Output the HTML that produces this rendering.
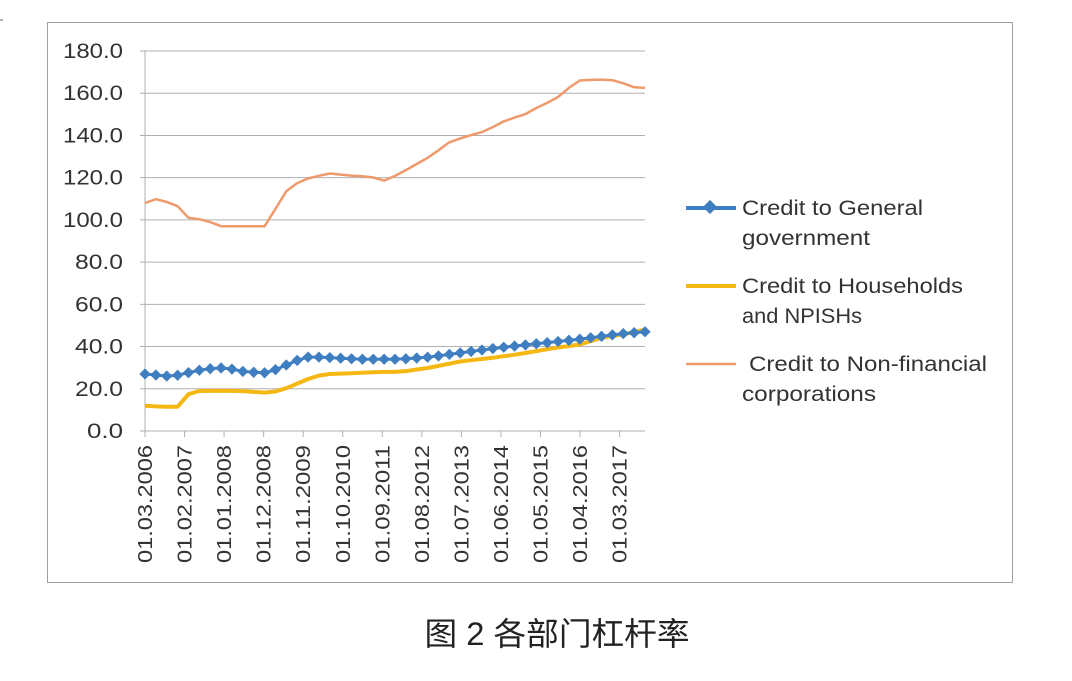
<!DOCTYPE html>
<html><head><meta charset="utf-8"><style>
body{margin:0;background:#fff;width:1072px;height:676px;overflow:hidden}
</style></head><body>
<svg width="1072" height="676" xmlns="http://www.w3.org/2000/svg" font-family="Liberation Sans, DejaVu Sans, sans-serif">
<rect x="47.5" y="22.5" width="965" height="560" fill="#fff" stroke="#a0a0a0"/>
<line x1="0" y1="20" x2="3" y2="20" stroke="#666"/>
<g id="grid" stroke="#b0b0b0" stroke-width="1"></g>
<g id="ylab" font-size="21" fill="#333" text-anchor="end"></g>
<g id="xlab" font-size="20" fill="#333"></g>
<line x1="145" y1="50" x2="145" y2="431" stroke="#b0b0b0"/>
<g id="series"></g>
<g font-size="21" fill="#333">
<line x1="686" y1="208" x2="736" y2="208" stroke="#3f7fc1" stroke-width="4"/>
<rect x="705" y="202" width="10" height="10" fill="#3f7fc1" transform="rotate(45 710 207)"/>
<text x="742" y="215" textLength="181" lengthAdjust="spacingAndGlyphs">Credit to General</text>
<text x="742" y="245" textLength="128" lengthAdjust="spacingAndGlyphs">government</text>
<line x1="686" y1="286" x2="736" y2="286" stroke="#f5b812" stroke-width="4"/>
<text x="742" y="293" textLength="221" lengthAdjust="spacingAndGlyphs">Credit to Households</text>
<text x="742" y="323" textLength="120" lengthAdjust="spacingAndGlyphs">and NPISHs</text>
<line x1="686" y1="364" x2="736" y2="364" stroke="#ee9a6c" stroke-width="2.5"/>
<text x="749" y="371" textLength="238" lengthAdjust="spacingAndGlyphs">Credit to Non-financial</text>
<text x="742" y="401" textLength="134" lengthAdjust="spacingAndGlyphs">corporations</text>
</g>
<text x="557" y="645" font-size="32" fill="#222" text-anchor="middle" textLength="265" lengthAdjust="spacingAndGlyphs" font-family="Liberation Sans, Noto Sans CJK SC, sans-serif">图 2 各部门杠杆率</text>
</svg>
<script>
var ns="http://www.w3.org/2000/svg";
function Y(v){return 431-v*380/180;}
function el(p,t,a,txt){var e=document.createElementNS(ns,t);for(var k in a)e.setAttribute(k,a[k]);if(txt!==undefined)e.textContent=txt;document.getElementById(p).appendChild(e);return e;}
for(var v=0;v<=180;v+=20){var y=Y(v);var s=v.toFixed(1);el("grid","line",{x1:140,x2:645,y1:y,y2:y});el("ylab","text",{x:123,y:y+7,textLength:s.length*12-0,lengthAdjust:"spacingAndGlyphs"},s);}
var labs=["01.03.2006","01.02.2007","01.01.2008","01.12.2008","01.11.2009","01.10.2010","01.09.2011","01.08.2012","01.07.2013","01.06.2014","01.05.2015","01.04.2016","01.03.2017"];
labs.forEach(function(l,i){var x=145+i*39.55;el("grid","line",{x1:x,x2:x,y1:431,y2:437});el("xlab","text",{x:0,y:0,transform:"translate("+(x+7)+",445) rotate(-90)","text-anchor":"end",textLength:118,lengthAdjust:"spacingAndGlyphs"},l);});
function interp(pts,x){for(var i=0;i<pts.length-1;i++){if(x>=pts[i][0]&&x<=pts[i+1][0]){var t=(x-pts[i][0])/(pts[i+1][0]-pts[i][0]);return pts[i][1]+t*(pts[i+1][1]-pts[i][1]);}}return pts[pts.length-1][1];}
var orange=[[145,108],[157,110],[170,108],[180,106],[188,101],[205,100],[220,97],[240,97],[268,97],[278,108],[290,116],[310,120],[330,122],[350,121],[370,120.5],[385,118.5],[400,122],[430,130],[450,137],[470,140],[485,142],[505,147],[525,150],[540,154],[555,157],[565,161],[578,166],[600,166.5],[618,166],[630,163],[645,162.5]];
var blue=[[145,27],[167,26],[180,26.5],[195,28.5],[210,29.5],[225,30],[245,28],[268,27.5],[280,30],[295,33],[305,35],[320,35],[340,34.5],[360,34],[400,34],[430,35],[460,37],[500,39.5],[540,41.5],[580,43.5],[620,46],[645,47]];
var yel=[[145,12],[160,11.5],[180,11.5],[190,18.5],[200,19],[240,19],[255,18.5],[270,18],[285,20],[300,23],[315,26],[330,27],[360,27.5],[380,28],[400,28],[430,30],[461,33],[490,34.5],[520,36.5],[550,39],[580,41],[600,44],[620,45.5],[645,48]];
function line(pts,col,w,mk){var s="";var xs=[];for(var i=0;i<47;i++){var x=145+i*500/46;xs.push([x,Y(interp(pts,x))]);s+=x.toFixed(1)+","+xs[i][1].toFixed(1)+" ";}
el("series","polyline",{points:s,fill:"none",stroke:col,"stroke-width":w,"stroke-linejoin":"round"});
if(mk)xs.forEach(function(p){el("series","rect",{x:p[0]-4,y:p[1]-4,width:8,height:8,fill:col,transform:"rotate(45 "+p[0]+" "+p[1]+")"});});}
line(orange,"#ee9a6c",2.5,false);
line(yel,"#f5b812",4,false);
line(blue,"#3f7fc1",3,true);
</script>
</body></html>
